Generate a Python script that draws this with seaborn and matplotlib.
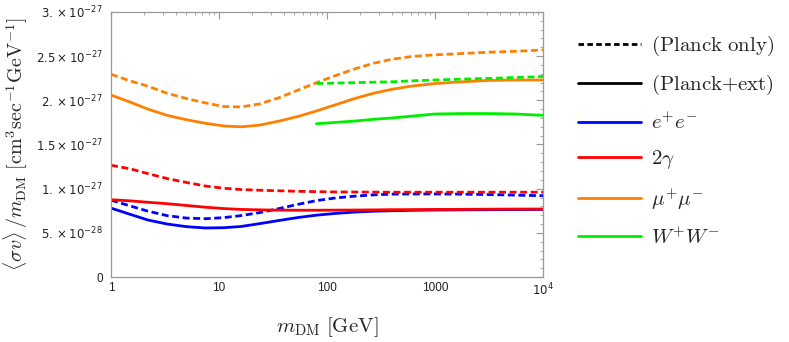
import numpy as np
import pandas as pd
import seaborn as sns
import matplotlib.pyplot as plt
from matplotlib.lines import Line2D
from matplotlib.ticker import FixedLocator, FixedFormatter, MultipleLocator, LogLocator, NullFormatter

sns.set_style('white')
plt.rcParams['font.family'] = ['Liberation Sans', 'DejaVu Sans']
plt.rcParams['mathtext.fontset'] = 'cm'

# mass grid in GeV
mass = [1, 1.5, 2.2, 3.3, 5, 7.5, 11, 16, 24, 36, 55, 80, 120, 180, 270, 400,
        600, 1000, 1800, 3200, 5600, 10000]
mass_w = [80, 120, 180, 270, 400, 600, 1000, 1800, 3200, 5600, 10000]

# <sigma v>/m_DM in units of 1e-27 cm^3 s^-1 GeV^-1
ee_planck = [0.87, 0.805, 0.745, 0.695, 0.667, 0.66, 0.672, 0.695, 0.73, 0.775, 0.825,
             0.865, 0.895, 0.915, 0.93, 0.938, 0.94, 0.94, 0.938, 0.933, 0.927, 0.92]
ee_ext = [0.78, 0.71, 0.645, 0.60, 0.57, 0.555, 0.558, 0.572, 0.605, 0.64, 0.675,
          0.70, 0.72, 0.735, 0.745, 0.75, 0.755, 0.758, 0.76, 0.762, 0.764, 0.765]
gg_planck = [1.265, 1.225, 1.17, 1.115, 1.07, 1.03, 1.005, 0.99, 0.982, 0.976, 0.97,
             0.966, 0.963, 0.962, 0.961, 0.96, 0.96, 0.96, 0.96, 0.96, 0.96, 0.96]
gg_ext = [0.875, 0.862, 0.846, 0.83, 0.81, 0.79, 0.775, 0.765, 0.76, 0.757, 0.756,
          0.756, 0.757, 0.758, 0.76, 0.762, 0.763, 0.765, 0.766, 0.768, 0.769, 0.77]
mumu_planck = [2.295, 2.22, 2.16, 2.08, 2.02, 1.97, 1.93, 1.925, 1.96, 2.03, 2.12,
               2.20, 2.28, 2.355, 2.42, 2.465, 2.495, 2.515, 2.53, 2.545, 2.555, 2.57]
mumu_ext = [2.06, 1.98, 1.90, 1.83, 1.78, 1.74, 1.71, 1.70, 1.72, 1.765, 1.82,
            1.88, 1.95, 2.02, 2.08, 2.125, 2.16, 2.19, 2.21, 2.225, 2.23, 2.23]
ww_planck = [2.19, 2.195, 2.20, 2.205, 2.21, 2.22, 2.23, 2.24, 2.248, 2.258, 2.27]
ww_ext = [1.735, 1.75, 1.765, 1.785, 1.80, 1.82, 1.845, 1.85, 1.85, 1.845, 1.83]

channels = ['ee', 'gg', 'mumu', 'ww']
channel_labels = [r'$e^{+}e^{-}$', r'$2\gamma$', r'$\mu^{+}\mu^{-}$', r'$W^{+}W^{-}$']
colors = ['#0000ff', '#ff0000', '#ff8000', '#00ee00']

rows = []
series = [
    ('ee', 'Planck only', mass, ee_planck), ('ee', 'Planck+ext', mass, ee_ext),
    ('gg', 'Planck only', mass, gg_planck), ('gg', 'Planck+ext', mass, gg_ext),
    ('mumu', 'Planck only', mass, mumu_planck), ('mumu', 'Planck+ext', mass, mumu_ext),
    ('ww', 'Planck only', mass_w, ww_planck), ('ww', 'Planck+ext', mass_w, ww_ext),
]
for ch, data, xs, ys in series:
    for x, y in zip(xs, ys):
        rows.append({'channel': ch, 'data': data, 'm': x, 'sv': y * 1e-27})
df = pd.DataFrame(rows)

fig = plt.figure(figsize=(7.89, 3.42), dpi=100)
ax = fig.add_axes([0.1407, 0.19, 0.5475, 0.775])

dash = (2.5, 1.3)
sns.lineplot(data=df, x='m', y='sv', hue='channel', style='data',
             hue_order=channels, palette=colors,
             style_order=['Planck only', 'Planck+ext'],
             dashes={'Planck only': dash, 'Planck+ext': ''},
             linewidth=2.0, legend=False, ax=ax, estimator=None, sort=True)

ax.set_xscale('log')
ax.set_xlim(1, 1e4)
ax.set_ylim(0, 3e-27)

ax.xaxis.set_major_locator(FixedLocator([1, 10, 100, 1000, 1e4]))
ax.xaxis.set_major_formatter(FixedFormatter(['1', '10', '100', '1000', r'$10^{4}$']))
ax.xaxis.set_minor_locator(LogLocator(base=10, subs=np.arange(2, 10)))
ax.xaxis.set_minor_formatter(NullFormatter())

yt = [0, 0.5e-27, 1e-27, 1.5e-27, 2e-27, 2.5e-27, 3e-27]
ylabs = ['0', r'$5.\times10^{-28}$', r'$1.\times10^{-27}$', r'$1.5\times10^{-27}$',
         r'$2.\times10^{-27}$', r'$2.5\times10^{-27}$', r'$3.\times10^{-27}$']
ax.yaxis.set_major_locator(FixedLocator(yt))
ax.yaxis.set_major_formatter(FixedFormatter(ylabs))
ax.yaxis.set_minor_locator(MultipleLocator(1e-28))

ax.tick_params(which='both', direction='in', top=True, right=True, color='#999999',
               labelsize=8.5, labelcolor='#222222')
ax.tick_params(axis='y', pad=6)
ax.tick_params(which='major', length=5, width=0.8)
ax.tick_params(which='minor', length=2.5, width=0.6)
for lab in ax.get_xticklabels() + ax.get_yticklabels():
    lab.set_math_fontfamily('dejavusans')
for sp in ax.spines.values():
    sp.set_color('#999999')
    sp.set_linewidth(0.9)

ax.set_xlabel(r'$m_{\rm DM}\ [{\rm GeV}]$', fontsize=15, labelpad=12)
ax.set_ylabel(r'$\langle\sigma v\rangle\,/m_{\rm DM}\ [{\rm cm}^3{\rm sec}^{-1}{\rm GeV}^{-1}]$',
              fontsize=14.5, labelpad=4)

handles = [Line2D([], [], color='black', lw=2.0, dashes=(2.0, 1.2)),
           Line2D([], [], color='black', lw=2.0)]
labels = [r'$({\rm Planck\ only})$', r'$({\rm Planck{+}ext})$']
for c, l in zip(colors, channel_labels):
    handles.append(Line2D([], [], color=c, lw=2.0))
    labels.append(l)
fig.legend(handles, labels, loc='upper left', bbox_to_anchor=(0.709, 0.955),
           frameon=False, fontsize=15, handlelength=3.0, labelspacing=0.72,
           handletextpad=0.5)

fig.savefig('out.png', dpi=100)
